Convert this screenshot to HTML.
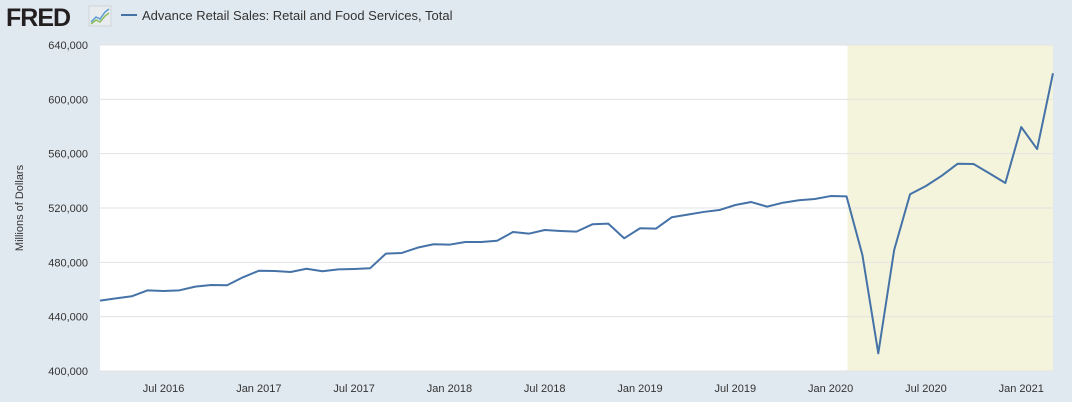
<!DOCTYPE html>
<html><head><meta charset="utf-8"><style>
body{margin:0;background:#e1e9f0;font-family:"Liberation Sans",sans-serif;}
svg{display:block}
</style></head><body>
<svg id="chart" width="1072" height="402">
<rect width="1072" height="402" fill="#e1e9f0"/>
<text x="6" y="26" font-size="25" font-weight="bold" fill="#231f20" letter-spacing="-1">FRED</text>
<g>
<rect x="89" y="6" width="22" height="20" fill="#e8ecef" stroke="#cfd6dc"/>
<polyline points="91,22 96,17 100,19 105,12 109,9" fill="none" stroke="#5a9bd5" stroke-width="1.5"/>
<polyline points="91,24 96,20 100,22 105,16 109,13" fill="none" stroke="#8bbd5a" stroke-width="1.5"/>
</g>
<line x1="121" y1="15" x2="137" y2="15" stroke="#4572a7" stroke-width="2"/>
<text x="142" y="20" font-size="13" fill="#333">Advance Retail Sales: Retail and Food Services, Total</text>
<rect x="100" y="45" width="953" height="326" fill="#fff"/>
<g id="shade"></g><g id="grid"></g><g id="yt"></g><g id="xt"></g><g id="series"></g>
<text transform="translate(23,208) rotate(-90)" text-anchor="middle" font-size="11" fill="#333">Millions of Dollars</text>
</svg>
<script>
const values=[451.8,453.5,455.0,459.4,458.9,459.4,462.1,463.3,463.1,469.0,473.8,473.6,472.9,475.3,473.4,474.8,475.1,475.6,486.4,486.9,490.8,493.3,493.0,495.0,495.0,495.9,502.3,501.1,503.8,503.1,502.6,508.0,508.5,497.7,505.1,504.8,513.2,515.1,517.1,518.5,522.2,524.4,521.0,523.9,525.7,526.6,528.8,528.6,485.4,413.0,489.1,530.1,536.2,543.8,552.6,552.4,545.5,538.4,579.6,563.4,619.2];
const yTicks=[400,440,480,520,560,600,640];
const xTickLabels=["Jul 2016","Jan 2017","Jul 2017","Jan 2018","Jul 2018","Jan 2019","Jul 2019","Jan 2020","Jul 2020","Jan 2021"];
const xTickMonths=[4,10,16,22,28,34,40,46,52,58];
const recessionStart=47;
const NS="http://www.w3.org/2000/svg";
const X0=100,X1=1053,Y0=371,Y1=45;
const x=i=>X0+(X1-X0)*i/(values.length-1);
const y=v=>Y0-(v-400)/(640-400)*(Y0-Y1);
function mk(t,a,p){const e=document.createElementNS(NS,t);for(const k in a)e.setAttribute(k,a[k]);document.getElementById(p).appendChild(e);return e;}
const sh=mk('rect',{x:x(recessionStart)+1,y:Y1,width:X1-x(recessionStart)-1,height:Y0-Y1,fill:'#f3f4db'},'shade');


yTicks.forEach(v=>{
 const g=mk('line',{x1:X0,x2:X1,y1:y(v),y2:y(v),stroke:'#e3e3e3','stroke-width':1},'grid');
 
 
 const t=mk('text',{x:88,y:y(v)+4,'text-anchor':'end','font-size':11,fill:'#333'},'yt');
 t.textContent=v.toLocaleString('en-US')+',000';
 
 
});
xTickLabels.forEach((l,k)=>{
 const t=mk('text',{x:x(xTickMonths[k]),y:392,'text-anchor':'middle','font-size':11,fill:'#333'},'xt');
 t.textContent=l;
 
 
});
const pl=mk('polyline',{points:values.map((v,i)=>x(i)+','+y(v)).join(' '),fill:'none',stroke:'#4572a7','stroke-width':2,'stroke-linejoin':'round'},'series');


</script>
</body></html>
